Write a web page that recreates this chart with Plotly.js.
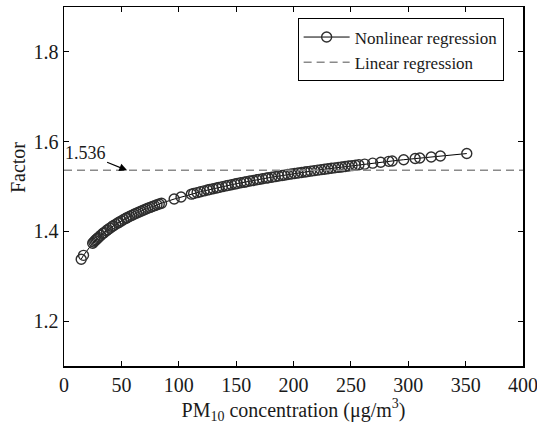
<!DOCTYPE html>
<html><head><meta charset="utf-8">
<script src="https://cdn.plot.ly/plotly-3.0.1.min.js"></script>
<style>html,body{margin:0;padding:0;background:#fff}#chart{width:537px;height:427px}</style>
</head><body><div id="chart"></div>
<script>
const pmConcentration = [15,17,25,26,27,28,29,30,32,34,35,37,38,40,42,43,45,47,48,50,52,54,55,57,59,61,63,65,67,69,71,73,75,77,79,81,83,85,96,102,111,113,116,119,122,125,127,130,133,135,138,141,143,146,149,151,154,157,159,162,165,168,170,173,176,178,181,184,187,190,192,195,198,201,204,207,210,212,215,218,221,224,227,230,233,236,239,242,245,248,251,254,257,262,269,276,283,286,296,306,310,320,328,351];
const nonlinearFactor = [1.338,1.3466,1.3736,1.3764,1.3790,1.3816,1.3841,1.3865,1.3911,1.3955,1.3976,1.4016,1.4035,1.4072,1.4107,1.4124,1.4157,1.4189,1.4204,1.4234,1.4263,1.4291,1.4304,1.4330,1.4356,1.4380,1.4404,1.4427,1.4450,1.4472,1.4493,1.4514,1.4534,1.4554,1.4573,1.4592,1.4610,1.4628,1.4720,1.4766,1.4830,1.4843,1.4863,1.4883,1.4902,1.4921,1.4933,1.4951,1.4968,1.4980,1.4997,1.5013,1.5024,1.5040,1.5056,1.5066,1.5082,1.5096,1.5106,1.5121,1.5135,1.5149,1.5158,1.5172,1.5186,1.5194,1.5207,1.5220,1.5233,1.5245,1.5253,1.5266,1.5278,1.5290,1.5301,1.5313,1.5324,1.5332,1.5343,1.5354,1.5364,1.5375,1.5385,1.5396,1.5406,1.5416,1.5426,1.5436,1.5446,1.5456,1.5465,1.5475,1.5484,1.5499,1.5520,1.5541,1.5561,1.5569,1.5597,1.5623,1.5634,1.5659,1.5679,1.5734];
const linearX = [0, 400];
const linearFactor = [1.536, 1.536];
const linearLabel = "1.536";
const xTickValues = [0,50,100,150,200,250,300,350,400];
const yTickValues = [1.2,1.4,1.6,1.8];
const seriesNames = ["Nonlinear regression", "Linear regression"];

const serif = 'Liberation Serif, Times New Roman, Times, serif';

const traces = [
  {
    x: pmConcentration, y: nonlinearFactor, name: seriesNames[0],
    type: 'scatter', mode: 'lines+markers',
    line: {color: '#000', width: 1},
    marker: {symbol: 'circle-open', size: 10, color: '#2e2e2e', line: {width: 1.4, color: '#2e2e2e'}}
  },
  {
    x: linearX, y: linearFactor, name: seriesNames[1],
    type: 'scatter', mode: 'lines',
    line: {color: '#8a8a8a', width: 1.5, dash: '8px,5px'}
  }
];

const axisCommon = {
  showline: true, linecolor: '#000', linewidth: 1.5, mirror: 'ticks',
  ticks: 'inside', ticklen: 5, tickwidth: 1, tickcolor: '#000',
  showgrid: false, zeroline: false, ticklabeloverflow: 'allow',
  tickfont: {family: serif, size: 20, color: '#1a1a1a'}
};

const layout = {
  width: 537, height: 427,
  margin: {l: 64, r: 14, t: 7, b: 61},
  paper_bgcolor: '#fff', plot_bgcolor: '#fff',
  font: {family: serif, color: '#1a1a1a'},
  showlegend: true,
  legend: {
    x: 0.509, y: 0.968, xanchor: 'left', yanchor: 'top',
    bgcolor: '#fff', bordercolor: '#000', borderwidth: 1,
    font: {family: serif, size: 17, color: '#1a1a1a'},
    tracegroupgap: 0, itemwidth: 46
  },
  xaxis: Object.assign({}, axisCommon, {
    range: [0, 400], tickvals: xTickValues, ticktext: xTickValues.map(String),
    title: {text: 'PM<sub>10</sub> concentration (μg/m<sup>3</sup>)', font: {family: serif, size: 20, color: '#1a1a1a'}, standoff: 8}
  }),
  yaxis: Object.assign({}, axisCommon, {
    range: [1.1, 1.9], tickvals: yTickValues, ticktext: yTickValues.map(v => v.toFixed(1)),
    title: {text: ''}
  }),
  annotations: [
    {
      text: 'Factor', xref: 'paper', yref: 'paper', x: -0.1, y: 0.5515,
      textangle: -90, showarrow: false, xanchor: 'center', yanchor: 'middle',
      font: {family: serif, size: 20, color: '#1a1a1a'}
    },
    {
      text: linearLabel, xref: 'x', yref: 'y', x: 55, y: linearFactor[0],
      ax: -42, ay: -17, showarrow: true, arrowhead: 2, arrowsize: 1.3, arrowwidth: 1.2,
      arrowcolor: '#000', font: {family: serif, size: 18, color: '#1a1a1a'}
    }
  ]
};

Plotly.newPlot('chart', traces, layout, {displayModeBar: false, staticPlot: true});
</script>
</body></html>
